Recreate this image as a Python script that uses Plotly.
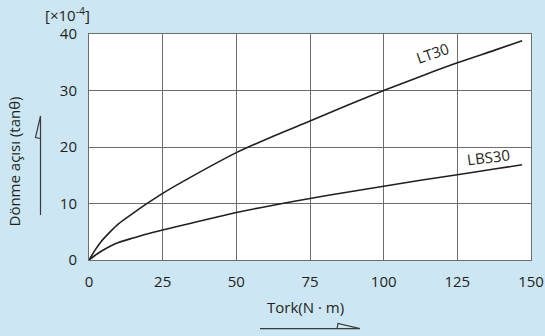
import plotly.graph_objects as go

torque = [0, 2, 4, 7, 10, 15, 20, 25, 35, 50, 62.5, 75, 87.5, 100, 112.5, 125, 137.5, 147]
lt30 = [0, 1.7, 3.2, 4.9, 6.4, 8.3, 10.1, 11.8, 14.8, 19.0, 21.9, 24.6, 27.35, 30.0, 32.5, 34.9, 37.1, 38.8]
lbs30 = [0, 0.8, 1.5, 2.4, 3.1, 3.9, 4.65, 5.3, 6.55, 8.4, 9.7, 10.9, 12.0, 13.05, 14.1, 15.1, 16.1, 16.85]
x_ticks = [0, 25, 50, 75, 100, 125, 150]
y_ticks = [0, 10, 20, 30, 40]

FONT = "Open Sans"
TXT = "#231f20"
BG = "#cde6f3"
FS = 15

L, R, T, B = 89, 531, 34, 260
W, H = 545, 336


def px(x):
    return (x - L) / (R - L)


def py(y):
    return (B - y) / (B - T)


fig = go.Figure()
for ys in (lt30, lbs30):
    fig.add_trace(go.Scatter(x=torque, y=ys, mode="lines",
                             line=dict(color="#231f20", width=1.6, shape="spline", smoothing=0.8),
                             showlegend=False, hoverinfo="skip"))

fig.add_annotation(x=116.5, y=36.6, text="LT30", showarrow=False, textangle=-19,
                   xanchor="center", yanchor="middle",
                   font=dict(family=FONT, size=FS, color=TXT))
fig.add_annotation(x=135.5, y=18.2, text="LBS30", showarrow=False, textangle=-7,
                   xanchor="center", yanchor="middle",
                   font=dict(family=FONT, size=FS, color=TXT))

# axis titles
fig.add_annotation(xref="paper", yref="paper", x=px(305), y=py(307), text="Tork(N · m)",
                   showarrow=False, xanchor="center", yanchor="middle",
                   font=dict(family=FONT, size=FS, color=TXT))
fig.add_annotation(xref="paper", yref="paper", x=px(13.5), y=py(162), text="Dönme açısı (tanθ)",
                   showarrow=False, textangle=-90, xanchor="center", yanchor="middle",
                   font=dict(family=FONT, size=FS, color=TXT))
fig.add_annotation(xref="paper", yref="paper", x=px(67), y=py(15), text="[×10<sup>-4</sup>]",
                   showarrow=False, xanchor="center", yanchor="middle",
                   font=dict(family=FONT, size=FS, color=TXT))

# arrows beside titles
arrow_col = "#3a3a3a"
fig.add_shape(type="path", xref="paper", yref="paper",
              path=f"M {px(260)} {py(328.7)} L {px(360)} {py(328.7)} L {px(338)} {py(323.5)} L {px(337)} {py(328.7)}",
              line=dict(color=arrow_col, width=1.2))
fig.add_shape(type="path", xref="paper", yref="paper",
              path=f"M {px(40.5)} {py(215)} L {px(40.5)} {py(116)} L {px(35.5)} {py(137.5)} L {px(40.5)} {py(138.5)}",
              line=dict(color=arrow_col, width=1.2))

axis_common = dict(showgrid=True, gridcolor="#6d6d6d", gridwidth=1, zeroline=False,
                   showline=True, linecolor="#6d6d6d", linewidth=1, mirror=True,
                   automargin=False,
                   ticks="", tickfont=dict(family=FONT, size=FS, color=TXT))

fig.update_xaxes(range=[0, 150], tickvals=x_ticks, ticklabelstandoff=8, **axis_common)
fig.update_yaxes(range=[0, 40], tickvals=y_ticks, ticklabelstandoff=8, **axis_common)

fig.update_layout(width=W, height=H, autosize=False,
                  margin=dict(l=L, r=W - R, t=T, b=H - B),
                  paper_bgcolor=BG, plot_bgcolor="white")

fig.write_html("out.html",
               config={"responsive": False, "displayModeBar": False, "staticPlot": True},
               post_script="document.body.style.margin='0';document.body.style.overflow='hidden';")
